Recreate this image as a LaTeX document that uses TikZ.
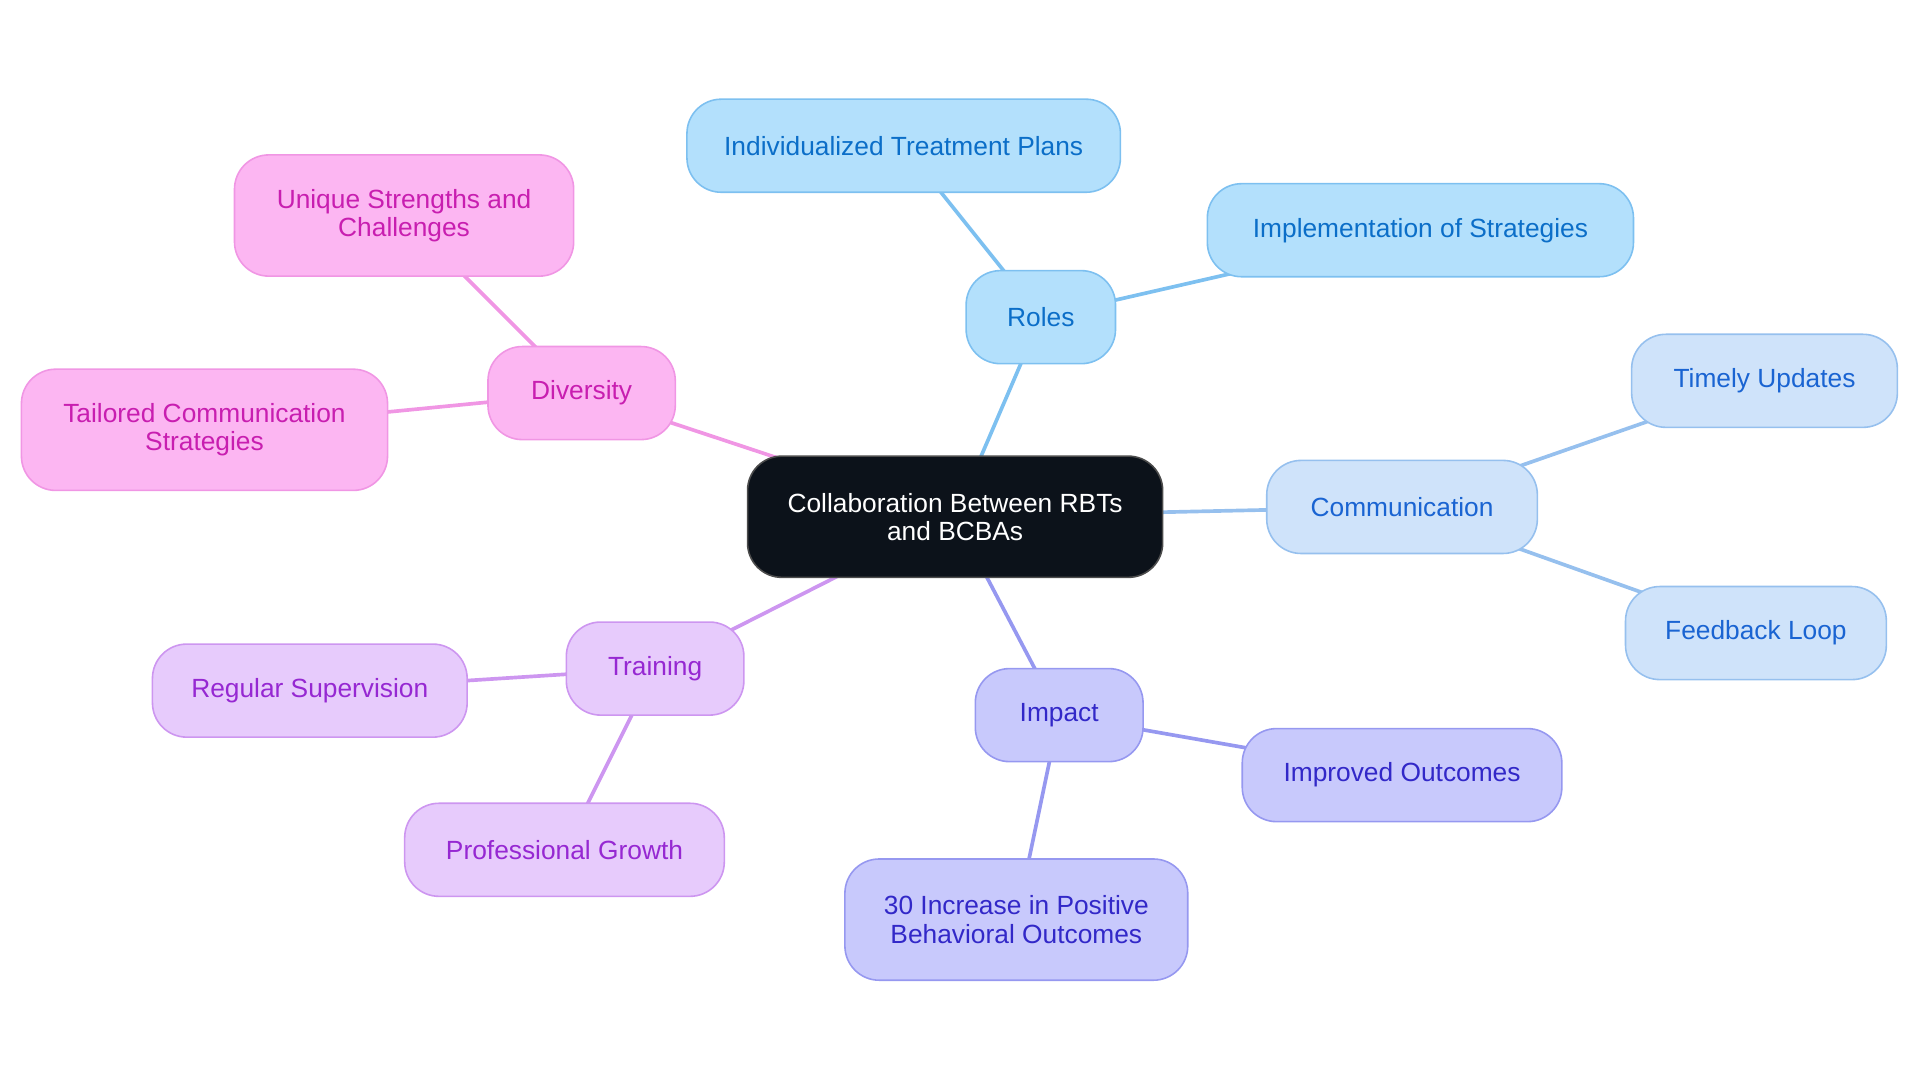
\documentclass[tikz,border=0pt]{standalone}
\usepackage{fontspec}
\setmainfont{Liberation Sans}
\usetikzlibrary{backgrounds}
\definecolor{rolF}{RGB}{179,224,252}\definecolor{rolD}{RGB}{125,192,240}\definecolor{rolT}{RGB}{11,110,200}
\definecolor{comF}{RGB}{207,227,250}\definecolor{comD}{RGB}{150,192,238}\definecolor{comT}{RGB}{26,100,210}
\definecolor{impF}{RGB}{200,201,252}\definecolor{impD}{RGB}{150,152,240}\definecolor{impT}{RGB}{50,40,200}
\definecolor{trnF}{RGB}{231,203,252}\definecolor{trnD}{RGB}{205,150,240}\definecolor{trnT}{RGB}{150,40,210}
\definecolor{divF}{RGB}{252,182,242}\definecolor{divD}{RGB}{240,150,228}\definecolor{divT}{RGB}{200,30,176}
\definecolor{ctrF}{RGB}{12,18,26}
\begin{document}
\begin{tikzpicture}[x=1pt,y=-1pt,
  box/.style={rectangle, rounded corners=28pt, draw, line width=1.3pt, align=center, inner sep=0pt,
    font=\fontsize{21.5}{23}\selectfont},
  rolbox/.style={box, fill=rolF, draw=rolD, text=rolT},
  combox/.style={box, fill=comF, draw=comD, text=comT},
  impbox/.style={box, fill=impF, draw=impD, text=impT},
  trnbox/.style={box, fill=trnF, draw=trnD, text=trnT},
  divbox/.style={box, fill=divF, draw=divD, text=divT},
  ctrbox/.style={box, fill=ctrF, draw=black!70, text=white},
  link/.style={line width=3pt}
]
\useasboundingbox (0,0) rectangle (1568,884);
\node[ctrbox, minimum width=339pt, minimum height=99pt] (ctr) at (780,422) {Collaboration Between RBTs\\and BCBAs};
\node[rolbox, minimum width=122pt, minimum height=76pt] (roles) at (850,259) {Roles};
\node[rolbox, minimum width=354pt, minimum height=76pt] (itp) at (738,119) {Individualized Treatment Plans};
\node[rolbox, minimum width=348pt, minimum height=76pt] (ios) at (1160,188) {Implementation of Strategies};
\node[combox, minimum width=221pt, minimum height=76pt] (comm) at (1145,414) {Communication};
\node[combox, minimum width=217pt, minimum height=76pt] (tu) at (1441,311) {Timely Updates};
\node[combox, minimum width=213pt, minimum height=76pt] (fl) at (1434,517) {Feedback Loop};
\node[impbox, minimum width=137pt, minimum height=76pt] (imp) at (865,584) {Impact};
\node[impbox, minimum width=261pt, minimum height=76pt] (io) at (1145,633) {Improved Outcomes};
\node[impbox, minimum width=280pt, minimum height=99pt] (inc) at (830,751) {30 Increase in Positive\\Behavioral Outcomes};
\node[trnbox, minimum width=145pt, minimum height=76pt] (trn) at (535,546) {Training};
\node[trnbox, minimum width=257pt, minimum height=76pt] (rs) at (253,564) {Regular Supervision};
\node[trnbox, minimum width=261pt, minimum height=76pt] (pg) at (461,694) {Professional Growth};
\node[divbox, minimum width=153pt, minimum height=76pt] (div) at (475,321) {Diversity};
\node[divbox, minimum width=277pt, minimum height=99pt] (usc) at (330,176) {Unique Strengths and\\Challenges};
\node[divbox, minimum width=299pt, minimum height=99pt] (tcs) at (167,351) {Tailored Communication\\Strategies};
\begin{scope}[on background layer]
\draw[link, rolD] (ctr.center) -- (roles.center);
\draw[link, rolD] (roles.center) -- (itp.center);
\draw[link, rolD] (roles.center) -- (ios.center);
\draw[link, comD] (ctr.center) -- (comm.center);
\draw[link, comD] (comm.center) -- (tu.center);
\draw[link, comD] (comm.center) -- (fl.center);
\draw[link, impD] (ctr.center) -- (imp.center);
\draw[link, impD] (imp.center) -- (io.center);
\draw[link, impD] (imp.center) -- (inc.center);
\draw[link, trnD] (ctr.center) -- (trn.center);
\draw[link, trnD] (trn.center) -- (rs.center);
\draw[link, trnD] (trn.center) -- (pg.center);
\draw[link, divD] (ctr.center) -- (div.center);
\draw[link, divD] (div.center) -- (usc.center);
\draw[link, divD] (div.center) -- (tcs.center);
\end{scope}
\end{tikzpicture}
\end{document}
